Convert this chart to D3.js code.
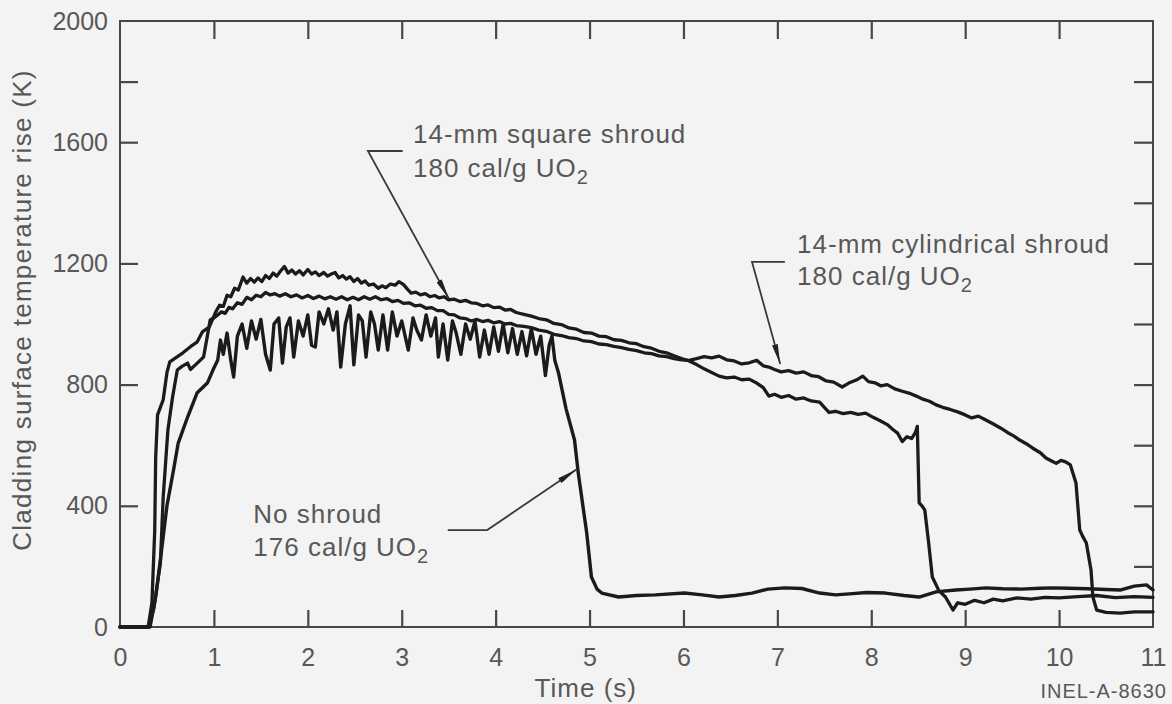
<!DOCTYPE html>
<html>
<head>
<meta charset="utf-8">
<script src="https://cdn.jsdelivr.net/npm/d3@7"></script>
<style>
  html, body { margin: 0; padding: 0; background: #f3f3f3; }
  svg { display: block; }
  text { font-family: "Liberation Sans", Arial, Helvetica, sans-serif; fill: #585858; }
</style>
</head>
<body>
<svg id="chart" width="1172" height="704"></svg>
<script>
// Cladding surface temperature rise vs time for three shroud configurations.

// Time ticks (s) and temperature ticks (K)
const timeTicks = [0, 1, 2, 3, 4, 5, 6, 7, 8, 9, 10, 11];
const tempLabelTicks = [0, 400, 800, 1200, 1600, 2000];
const tempLeftMarks = [400, 800, 1200, 1600, 1800];
const tempRightMarks = [200, 400, 600, 800, 1000, 1200, 1400, 1600, 1800];

// 14-mm square shroud, 180 cal/g UO2
const squareT = [0, 0.30, 0.34, 0.37, 0.38, 0.40, 0.46, 0.50, 0.53, 0.60, 0.67, 0.75, 0.82, 0.88, 0.95,
  1.02, 1.06, 1.10, 1.14, 1.18, 1.22, 1.26, 1.31, 1.35, 1.39, 1.43, 1.47, 1.51, 1.55, 1.59, 1.63,
  1.67, 1.71, 1.75, 1.79, 1.83, 1.87, 1.91, 1.95, 2.00, 2.04, 2.08, 2.12, 2.17, 2.21, 2.25, 2.29,
  2.33, 2.37, 2.41, 2.45, 2.49, 2.53, 2.57, 2.61, 2.65, 2.70, 2.75, 2.79, 2.83, 2.88, 2.93, 2.97,
  3.02, 3.06, 3.10, 3.15, 3.20, 3.25, 3.30, 3.35, 3.40, 3.45, 3.50, 3.56, 3.62, 3.68, 3.74, 3.80,
  3.86, 3.92, 3.98, 4.04, 4.10, 4.16, 4.22, 4.30, 4.38, 4.46, 4.54, 4.62, 4.70, 4.78, 4.86, 4.94,
  5.02, 5.10, 5.18, 5.26, 5.34, 5.42, 5.50, 5.58, 5.66, 5.74, 5.82, 5.90, 5.98, 6.06, 6.14, 6.22,
  6.30, 6.38, 6.46, 6.54, 6.62, 6.70, 6.78, 6.85, 6.91, 6.97, 7.04, 7.12, 7.20, 7.28, 7.36, 7.45,
  7.50, 7.55, 7.62, 7.70, 7.78, 7.86, 7.94, 8.02, 8.10, 8.17, 8.23, 8.28, 8.33, 8.38, 8.43, 8.47,
  8.49, 8.51, 8.54, 8.57, 8.61, 8.65, 8.72, 8.79, 8.87, 8.92, 9.00, 9.10, 9.20, 9.30, 9.40, 9.55,
  9.70, 9.85, 10.00, 10.20, 10.40, 10.60, 10.80, 11.00];
const squareV = [0, 0, 80, 320, 560, 700, 750, 840, 875, 890, 905, 925, 940, 975, 990,
  1040, 1062, 1058, 1095, 1090, 1118, 1112, 1155, 1135, 1150, 1138, 1152, 1140, 1160, 1150, 1168,
  1158, 1175, 1190, 1168, 1178, 1165, 1176, 1162, 1180, 1165, 1172, 1160, 1170, 1158, 1165, 1170,
  1152, 1160, 1148, 1156, 1140, 1150, 1135, 1142, 1128, 1132, 1118, 1126, 1120, 1132, 1128, 1140,
  1130, 1115, 1102, 1105, 1096, 1100, 1090, 1094, 1086, 1090, 1080, 1082, 1074, 1078, 1070, 1068,
  1060, 1063, 1054, 1056, 1046, 1048, 1038, 1032, 1026, 1018, 1014, 1002, 998, 987, 983, 972,
  970, 960, 958, 948, 946, 938, 935, 925, 920, 910, 905, 895, 886, 878, 866, 852,
  840, 828, 822, 825, 816, 818, 805, 790, 762, 768, 758, 764, 752, 756, 746, 742,
  725, 708, 712, 704, 708, 702, 706, 692, 680, 668, 652, 640, 612, 628, 622, 642,
  662, 410, 400, 386, 280, 165, 120, 99, 56, 80, 75, 88, 80, 92, 86, 96,
  92, 98, 96, 100, 104, 97, 100, 98];

// 14-mm cylindrical shroud, 180 cal/g UO2
const cylT = [0, 0.30, 0.36, 0.43, 0.46, 0.51, 0.56, 0.61, 0.66, 0.72, 0.75, 0.82, 0.89, 0.93, 0.96,
  1.00, 1.04, 1.08, 1.12, 1.16, 1.20, 1.25, 1.30, 1.35, 1.40, 1.45, 1.50, 1.55, 1.60, 1.65, 1.70,
  1.76, 1.82, 1.88, 1.94, 2.00, 2.06, 2.12, 2.18, 2.24, 2.30, 2.36, 2.42, 2.48, 2.54, 2.60, 2.66,
  2.72, 2.78, 2.84, 2.90, 2.96, 3.02, 3.08, 3.14, 3.20, 3.26, 3.32, 3.38, 3.44, 3.50, 3.56, 3.62,
  3.68, 3.74, 3.80, 3.86, 3.92, 3.98, 4.04, 4.10, 4.16, 4.22, 4.30, 4.38, 4.46, 4.54, 4.62, 4.70,
  4.78, 4.86, 4.94, 5.02, 5.10, 5.18, 5.26, 5.34, 5.42, 5.50, 5.58, 5.66, 5.74, 5.82, 5.90, 5.98,
  6.06, 6.14, 6.22, 6.30, 6.38, 6.46, 6.54, 6.62, 6.70, 6.78, 6.85, 6.91, 6.97, 7.04, 7.12, 7.20,
  7.28, 7.36, 7.44, 7.52, 7.60, 7.69, 7.76, 7.84, 7.91, 7.97, 8.04, 8.10, 8.17, 8.25, 8.33, 8.40,
  8.48, 8.55, 8.62, 8.69, 8.76, 8.84, 8.92, 9.00, 9.07, 9.14, 9.22, 9.30, 9.38, 9.45, 9.52, 9.58,
  9.65, 9.72, 9.80, 9.86, 9.92, 9.97, 10.02, 10.07, 10.12, 10.18, 10.22, 10.25, 10.29, 10.34, 10.36, 10.40,
  10.50, 10.65, 10.80, 11.00];
const cylV = [0, 0, 60, 211, 429, 650, 759, 848, 860, 871, 850, 870, 891, 960, 1013,
  1020, 1030, 1040, 1035, 1055, 1050, 1070, 1065, 1088, 1080, 1095, 1090, 1104, 1096, 1100, 1092,
  1100, 1090, 1096, 1086, 1094, 1084, 1092, 1083, 1090, 1082, 1090, 1080, 1088, 1080, 1090, 1082,
  1090, 1080, 1084, 1074, 1078, 1068, 1070, 1060, 1062, 1052, 1054, 1044, 1044, 1032, 1030, 1020,
  1018, 1010, 1015, 1008, 1012, 1004, 1008, 1000, 1002, 995, 992, 988, 980, 976, 966, 962,
  955, 952, 944, 942, 934, 932, 926, 922, 916, 912, 905, 902, 895, 892, 886, 882,
  880, 886, 892, 888, 894, 882, 878, 868, 872, 880, 862, 858, 850, 842, 846, 838,
  842, 830, 826, 812, 808, 792, 805, 815, 828, 810, 806, 796, 800, 786, 778, 772,
  762, 752, 745, 733, 725, 718, 710, 700, 690, 696, 683, 670, 656, 642, 630, 617,
  605, 590, 575, 558, 548, 540, 550, 545, 535, 475, 320, 300, 277, 188, 99, 56,
  48, 46, 50, 50];

// No shroud, 176 cal/g UO2
const noneT = [0, 0.32, 0.38, 0.43, 0.50, 0.57, 0.62, 0.72, 0.82, 0.93, 0.99, 1.04, 1.07, 1.10, 1.14,
  1.18, 1.21, 1.25, 1.30, 1.35, 1.40, 1.45, 1.50, 1.55, 1.60, 1.64, 1.69, 1.73, 1.77, 1.81, 1.85,
  1.90, 1.95, 2.00, 2.04, 2.08, 2.12, 2.17, 2.22, 2.27, 2.31, 2.35, 2.40, 2.45, 2.49, 2.54, 2.58,
  2.62, 2.67, 2.71, 2.75, 2.80, 2.85, 2.90, 2.95, 3.00, 3.07, 3.12, 3.16, 3.21, 3.26, 3.31, 3.36,
  3.39, 3.44, 3.49, 3.54, 3.58, 3.63, 3.68, 3.73, 3.78, 3.83, 3.88, 3.93, 3.98, 4.03, 4.08, 4.13,
  4.18, 4.23, 4.28, 4.33, 4.38, 4.43, 4.48, 4.53, 4.57, 4.60, 4.63, 4.67, 4.75, 4.84, 4.88, 4.97,
  5.02, 5.08, 5.13, 5.31, 5.50, 5.70, 6.01, 6.20, 6.38, 6.55, 6.73, 6.90, 7.08, 7.26, 7.45, 7.62,
  7.80, 7.95, 8.15, 8.35, 8.51, 8.69, 8.90, 9.05, 9.22, 9.40, 9.60, 9.80, 9.94, 10.10, 10.30, 10.50,
  10.65, 10.80, 10.93, 11.00];
const noneV = [0, 0, 100, 221, 400, 518, 607, 693, 772, 805, 848, 880, 947, 900, 970,
  880, 825, 960, 1000, 920, 1010, 950, 1015, 900, 848, 1000, 1020, 871, 990, 1020, 891,
  1010, 960, 1030, 930, 924, 1040, 1000, 1050, 980, 1040, 858, 1000, 1060, 865, 1030, 1010,
  891, 1040, 1000, 914, 1030, 914, 1040, 960, 1010, 914, 1020, 980, 947, 1030, 960, 1020,
  891, 1000, 881, 1010, 970, 900, 1000, 950, 1010, 891, 980, 900, 990, 910, 1000, 905,
  985, 900, 975, 895, 985, 900, 960, 830, 930, 960, 880, 838, 720, 617, 508, 310,
  165, 125, 112, 99, 104, 106, 112, 106, 99, 104, 112, 125, 129, 127, 112, 106,
  110, 114, 112, 104, 99, 116, 122, 125, 129, 126, 125, 128, 129, 128, 126, 124,
  122, 135, 139, 122];

const svg = d3.select("#chart");

const x = d3.scaleLinear().domain([0, 11]).range([120, 1153]);
const y = d3.scaleLinear().domain([0, 2000]).range([627, 21]);

const axisColor = "#474747";
const lineColor = "#1b1b1b";

// Frame
svg.append("rect")
  .attr("x", x(0)).attr("y", y(2000))
  .attr("width", x(11) - x(0)).attr("height", y(0) - y(2000))
  .attr("fill", "none").attr("stroke", axisColor).attr("stroke-width", 2);

function styleAxis(g) {
  g.select(".domain").remove();
  g.selectAll(".tick line").attr("stroke", axisColor).attr("stroke-width", 2.2);
  g.selectAll(".tick text").attr("fill", "#585858").style("font-size", "25px");
}

// Bottom: labels and inward ticks
svg.append("g").attr("transform", `translate(0,${y(0)})`)
  .call(d3.axisBottom(x).tickValues(timeTicks).tickSize(0).tickPadding(21).tickFormat(d3.format("d")))
  .call(styleAxis);
svg.append("g").attr("transform", `translate(0,${y(0)})`)
  .call(d3.axisBottom(x).tickValues(timeTicks.slice(1, -1)).tickSize(-17).tickFormat(""))
  .call(styleAxis);
// Top: inward ticks
svg.append("g").attr("transform", `translate(0,${y(2000)})`)
  .call(d3.axisTop(x).tickValues(timeTicks.slice(1, -1)).tickSize(-18).tickFormat(""))
  .call(styleAxis);
// Left: labels and inward ticks
svg.append("g").attr("transform", `translate(${x(0)},0)`)
  .call(d3.axisLeft(y).tickValues(tempLabelTicks).tickSize(0).tickPadding(12).tickFormat(d3.format("d")))
  .call(styleAxis);
svg.append("g").attr("transform", `translate(${x(0)},0)`)
  .call(d3.axisLeft(y).tickValues(tempLeftMarks).tickSize(-18).tickFormat(""))
  .call(styleAxis);
// Right: inward ticks
svg.append("g").attr("transform", `translate(${x(11)},0)`)
  .call(d3.axisRight(y).tickValues(tempRightMarks).tickSize(-19).tickFormat(""))
  .call(styleAxis);

// Axis titles
svg.append("text")
  .attr("x", x(4.96)).attr("y", 697)
  .attr("text-anchor", "middle")
  .style("font-size", "26px").style("letter-spacing", "1px")
  .text("Time (s)");
svg.append("text")
  .attr("transform", `translate(31,${(y(0) + y(2000)) / 2 - 14}) rotate(-90)`)
  .attr("text-anchor", "middle")
  .style("font-size", "26px").style("letter-spacing", "1.3px")
  .text("Cladding surface temperature rise (K)");
svg.append("text")
  .attr("x", 1167).attr("y", 698)
  .attr("text-anchor", "end")
  .style("font-size", "20px").style("letter-spacing", "1px")
  .text("INEL-A-8630");

// Curves
const line = d3.line().x(d => x(d[0])).y(d => y(d[1]));
const series = [
  { t: noneT, v: noneV, w: 3.4 },
  { t: cylT, v: cylV, w: 3.3 },
  { t: squareT, v: squareV, w: 3.3 }
];
series.forEach(s => {
  const pts = s.t.map((t, i) => [t, s.v[i]]);
  svg.append("path")
    .datum(pts)
    .attr("d", line)
    .attr("fill", "none")
    .attr("stroke", lineColor)
    .attr("stroke-width", s.w)
    .attr("stroke-linejoin", "round")
    .attr("stroke-linecap", "round");
});

// Leader arrows
const defs = svg.append("defs");
defs.append("marker")
  .attr("id", "arrow")
  .attr("viewBox", "0 0 20 6")
  .attr("refX", 20).attr("refY", 3)
  .attr("markerWidth", 20).attr("markerHeight", 6)
  .attr("markerUnits", "userSpaceOnUse")
  .attr("orient", "auto")
  .append("path")
  .attr("d", "M0,0 L20,3 L0,6 Z")
  .attr("fill", "#222");

const annotations = [
  { lines: ["14-mm square shroud", "180 cal/g UO"], tx: 3.12, ty: [1597, 1485],
    bar: [[3.01, 1571], [2.64, 1571]], tip: [3.50, 1085] },
  { lines: ["14-mm cylindrical shroud", "180 cal/g UO"], tx: 7.21, ty: [1234, 1128],
    bar: [[7.08, 1205], [6.73, 1205]], tip: [7.03, 868] },
  { lines: ["No shroud", "176 cal/g UO"], tx: 1.42, ty: [343, 234],
    bar: [[3.49, 320], [3.91, 320]], tip: [4.86, 520] }
];

annotations.forEach(a => {
  const pts = [a.bar[0], a.bar[1], a.tip].map(p => [x(p[0]), y(p[1])]);
  svg.append("path")
    .attr("d", d3.line()(pts))
    .attr("fill", "none")
    .attr("stroke", "#3a3a3a")
    .attr("stroke-width", 1.8)
    .attr("marker-end", "url(#arrow)");
  svg.append("text")
    .attr("x", x(a.tx)).attr("y", y(a.ty[0]))
    .style("font-size", "26px").style("letter-spacing", "1px")
    .text(a.lines[0]);
  const t2 = svg.append("text")
    .attr("x", x(a.tx)).attr("y", y(a.ty[1]))
    .style("font-size", "26px").style("letter-spacing", "1px");
  t2.append("tspan").text(a.lines[1]);
  t2.append("tspan").attr("dy", 7).style("font-size", "20px").text("2");
});
</script>
</body>
</html>
